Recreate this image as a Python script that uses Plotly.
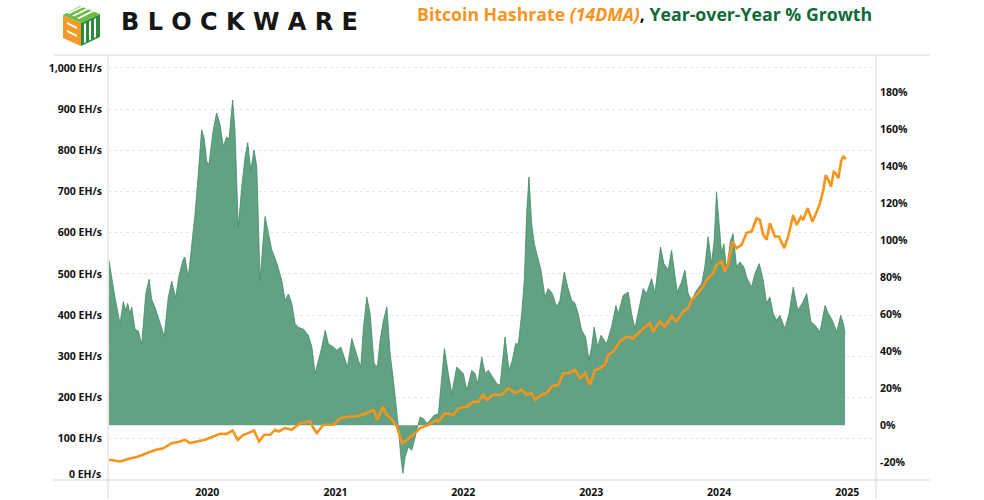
import pandas as pd
import plotly.graph_objects as go

# ---------------- data ----------------
# Year-over-year % growth of 14DMA hashrate (decimal year, %)
yoy_t = [2019.232, 2019.253, 2019.279, 2019.318, 2019.344, 2019.362, 2019.378, 2019.396, 2019.409, 2019.435,
         2019.461, 2019.488, 2019.519, 2019.545, 2019.566, 2019.591, 2019.617, 2019.644, 2019.664, 2019.695,
         2019.722, 2019.753, 2019.779, 2019.813, 2019.826, 2019.852, 2019.883, 2019.904, 2019.930, 2019.956,
         2019.977, 2019.995, 2020.013, 2020.029, 2020.047, 2020.073, 2020.099, 2020.125, 2020.152, 2020.170,
         2020.198, 2020.216, 2020.242, 2020.269, 2020.295, 2020.316, 2020.339, 2020.365, 2020.386, 2020.412,
         2020.451, 2020.477, 2020.503, 2020.542, 2020.581, 2020.607, 2020.633, 2020.659, 2020.685, 2020.711,
         2020.750, 2020.789, 2020.816, 2020.841, 2020.867, 2020.894, 2020.920, 2020.945, 2020.984, 2021.011,
         2021.042, 2021.068, 2021.094, 2021.128, 2021.154, 2021.180, 2021.198, 2021.219, 2021.245, 2021.271,
         2021.302, 2021.328, 2021.349, 2021.375, 2021.402, 2021.427, 2021.453, 2021.480, 2021.492, 2021.511,
         2021.527, 2021.545, 2021.570, 2021.597, 2021.623, 2021.648, 2021.662, 2021.688, 2021.714, 2021.740,
         2021.771, 2021.805, 2021.818, 2021.852, 2021.878, 2021.909, 2021.948, 2021.974, 2022.000, 2022.027,
         2022.066, 2022.091, 2022.113, 2022.144, 2022.170, 2022.195, 2022.227, 2022.261, 2022.287, 2022.326,
         2022.357, 2022.383, 2022.409, 2022.430, 2022.456, 2022.477, 2022.495, 2022.513, 2022.534, 2022.555,
         2022.581, 2022.607, 2022.638, 2022.664, 2022.695, 2022.730, 2022.755, 2022.789, 2022.816, 2022.847,
         2022.873, 2022.898, 2022.925, 2022.956, 2022.982, 2023.003, 2023.023, 2023.050, 2023.076, 2023.120,
         2023.159, 2023.193, 2023.211, 2023.250, 2023.289, 2023.316, 2023.341, 2023.375, 2023.406, 2023.433,
         2023.472, 2023.498, 2023.523, 2023.542, 2023.568, 2023.602, 2023.628, 2023.646, 2023.672, 2023.706,
         2023.732, 2023.758, 2023.784, 2023.823, 2023.863, 2023.888, 2023.914, 2023.941, 2023.961, 2023.980,
         2023.998, 2024.019, 2024.037, 2024.058, 2024.089, 2024.109, 2024.136, 2024.162, 2024.193, 2024.214,
         2024.253, 2024.279, 2024.313, 2024.344, 2024.370, 2024.396, 2024.422, 2024.448, 2024.474, 2024.513,
         2024.545, 2024.578, 2024.613, 2024.648, 2024.683, 2024.716, 2024.748, 2024.787, 2024.826, 2024.852,
         2024.883, 2024.917, 2024.948, 2024.969, 2024.982]
yoy_pct = [89, 80, 69, 55, 67, 62, 66, 60, 64, 52,
           51, 44, 71, 79, 68, 64, 58, 53, 48, 69,
           78, 69, 81, 90, 91, 80, 100, 114, 136, 160,
           155, 143, 141, 151, 160, 169, 163, 151, 156, 155,
           176, 160, 107, 129, 145, 153, 138, 149, 140, 78.5,
           113, 104, 95, 88, 78.5, 67.6, 71, 66, 55, 53,
           52, 48.7, 42.4, 28, 35, 42.4, 51.4, 44, 42.4, 40.6,
           42.4, 37, 31.5, 47, 40.6, 35, 31.5, 53, 69.4, 60.4,
           33.4, 31.5, 46, 56.8, 64, 38.8, 24.4, 8, -1, -17,
           -26, -17, -11.7, -13.5, -6.3, -1, 4.5, 3.6, 1, 2.7,
           5.4, 6.3, 15.3, 41.5, 29.8, 17.2, 31.5, 29.8, 28, 18.9,
           29.8, 28, 22.6, 37, 28, 29.8, 26, 22.6, 21.6, 47.8,
           29.8, 35.2, 44.2, 44, 60.4, 78.5, 114.6, 134.4, 109, 98.3,
           91, 84, 69.4, 74, 71.3, 64, 67.6, 83, 74.8, 67.6,
           66, 60.4, 51.4, 47.8, 35.2, 42.4, 53.2, 42.4, 48.7, 44.2,
           53.2, 64.9, 60.4, 70.3, 72.1, 60.4, 52.3, 64, 74, 71.3,
           79.4, 71.3, 84, 96.5, 87.5, 84, 94.7, 85.7, 72.1, 77.5,
           84, 71.3, 67.6, 73, 76.7, 85.7, 102, 87.5, 100, 126,
           111, 93, 98.3, 84, 100, 103.7, 85.7, 88.4, 85.7, 80.2,
           74.8, 82, 87.5, 78.5, 66, 69.4, 60.4, 56.8, 59.5, 52.3,
           60.4, 74.8, 62.2, 65.9, 71.3, 55.9, 54.1, 50.5, 64.9, 60.4,
           56.8, 50.5, 59.5, 55, 49.6]

# Bitcoin hashrate, 14-day moving average (decimal year, EH/s)
hash_t = [2019.232, 2019.318, 2019.383, 2019.461, 2019.527, 2019.591, 2019.656, 2019.722, 2019.787, 2019.826,
          2019.865, 2019.917, 2019.982, 2020.047, 2020.099, 2020.152, 2020.198, 2020.238, 2020.281, 2020.320,
          2020.365, 2020.404, 2020.445, 2020.490, 2020.529, 2020.555, 2020.607, 2020.659, 2020.724, 2020.802,
          2020.828, 2020.855, 2020.906, 2020.984, 2021.037, 2021.102, 2021.154, 2021.206, 2021.271, 2021.297,
          2021.328, 2021.370, 2021.402, 2021.441, 2021.480, 2021.519, 2021.558, 2021.609, 2021.662, 2021.727,
          2021.792, 2021.805, 2021.857, 2021.922, 2021.961, 2022.027, 2022.078, 2022.117, 2022.156, 2022.183,
          2022.234, 2022.300, 2022.352, 2022.404, 2022.456, 2022.495, 2022.534, 2022.560, 2022.613, 2022.652,
          2022.691, 2022.742, 2022.781, 2022.820, 2022.873, 2022.912, 2022.951, 2022.990, 2023.029, 2023.068,
          2023.107, 2023.133, 2023.172, 2023.224, 2023.277, 2023.328, 2023.394, 2023.459, 2023.484, 2023.537,
          2023.576, 2023.628, 2023.667, 2023.719, 2023.758, 2023.784, 2023.823, 2023.875, 2023.914, 2023.953,
          2023.980, 2024.019, 2024.045, 2024.070, 2024.105, 2024.136, 2024.175, 2024.214, 2024.253, 2024.292,
          2024.318, 2024.344, 2024.370, 2024.396, 2024.435, 2024.466, 2024.508, 2024.539, 2024.578, 2024.605,
          2024.638, 2024.656, 2024.691, 2024.727, 2024.761, 2024.787, 2024.813, 2024.831, 2024.852, 2024.873,
          2024.894, 2024.909, 2024.930, 2024.951, 2024.969, 2024.988]
hash_eh = [49, 45, 51, 57, 65, 73, 77, 89.5, 93.4, 97.5,
           89.5, 93.4, 97.5, 105.5, 112, 112, 120, 97.5, 109.7, 113.8,
           120, 93.4, 109.7, 109.7, 121.8, 117.7, 126, 121.8, 138, 142,
           126, 113.8, 134, 134, 150, 154, 154, 158, 166, 170,
           146, 178, 158, 146, 130, 89.5, 97.5, 109.7, 126, 134,
           146, 142, 162, 158, 174, 178, 190, 190, 207, 194.6,
           207, 207, 223, 211, 219, 207, 211, 194.6, 207, 211,
           227, 231, 259, 259, 267, 247, 259, 231, 267, 271,
           279.5, 303.7, 311.7, 336, 348, 344, 364, 380.6, 360, 384.5,
           372, 396.6, 384.5, 408.8, 417, 437, 449, 469.4, 490, 502,
           522, 530, 506, 526, 578.6, 562.6, 570.6, 600, 603, 635,
           631, 595, 583, 623, 591, 591, 562.6, 591, 643, 619,
           639, 631, 660, 627, 651, 672, 704, 740, 728, 712,
           748, 744.5, 732, 772.7, 786.5, 778.5]

year_ticks = [2020, 2021, 2022, 2023, 2024, 2025]
left_ticks = [0, 100, 200, 300, 400, 500, 600, 700, 800, 900, 1000]
right_ticks = [-20, 0, 20, 40, 60, 80, 100, 120, 140, 160, 180]


def dec_to_date(t):
    y = int(t)
    start = pd.Timestamp(year=y, month=1, day=1)
    end = pd.Timestamp(year=y + 1, month=1, day=1)
    return start + (end - start) * (t - y)


def eh_label(v):
    return f"{v:,} EH/s"


yoy_dates = [dec_to_date(t) for t in yoy_t]
hash_dates = [dec_to_date(t) for t in hash_t]

# ---------------- layout geometry ----------------
W, H = 984, 500
ML, MR, MT, MB = 108, 108, 55, 20
PW, PH = W - ML - MR, H - MT - MB


def px(x):
    return (x - ML) / PW


def py(y):
    return (H - MB - y) / PH


GREEN_FILL = "#62A283"
GREEN_LINE = "#3F8A64"
ORANGE = "#F7941D"
DARK_GREEN = "#0D6B3A"
TICKFONT = dict(family="Open Sans", size=10.5, color="#111111", weight="bold")

fig = go.Figure()

fig.add_trace(go.Scatter(
    x=yoy_dates, y=yoy_pct, mode="lines", fill="tozeroy",
    fillcolor=GREEN_FILL, line=dict(color=GREEN_LINE, width=0.8),
    yaxis="y", name="YoY % Growth", hoverinfo="skip"))

fig.add_trace(go.Scatter(
    x=hash_dates, y=hash_eh, mode="lines",
    line=dict(color=ORANGE, width=2.6), yaxis="y2", name="Hashrate (14DMA)"))

fig.update_layout(
    width=W, height=H, autosize=False,
    margin=dict(l=ML, r=MR, t=MT, b=MB, autoexpand=False),
    paper_bgcolor="white", plot_bgcolor="white",
    showlegend=False,
    xaxis=dict(
        range=[dec_to_date(2019.224), dec_to_date(2025.224)],
        tickvals=[pd.Timestamp(year=y, month=1, day=1) for y in year_ticks],
        ticktext=[str(y) for y in year_ticks],
        tickfont=TICKFONT, showgrid=False, zeroline=False, showline=False,
        ticks="", ticklabelstandoff=4, automargin=False),
    yaxis=dict(
        side="right", range=[-29.6, 200.4],
        tickvals=right_ticks, ticktext=[f"{v}%" for v in right_ticks],
        tickfont=TICKFONT, showgrid=False, zeroline=False, showline=False,
        ticks="", ticklabelstandoff=3, automargin=False),
    yaxis2=dict(
        overlaying="y", side="left", range=[0, 1031.5],
        tickvals=left_ticks,
        # the bottom label is drawn as an annotation, lifted off the frame line
        ticktext=["" if v == 0 else eh_label(v) for v in left_ticks],
        tickfont=TICKFONT, showgrid=True, gridcolor="#e6e6e6", griddash="dot",
        gridwidth=1, zeroline=False, showline=False, ticks="", ticklabelstandoff=5,
        automargin=False),
)

fig.add_annotation(
    xref="paper", yref="y2", x=0, y=left_ticks[0], xanchor="right", yanchor="middle",
    xshift=-5, yshift=6, text=eh_label(left_ticks[0]), showarrow=False, font=TICKFONT)

# frame lines (table-style borders)
line_style = dict(color="#d9d9d9", width=1)
shapes = [
    dict(type="line", xref="paper", yref="paper", x0=px(53), x1=px(930), y0=1, y1=1, line=line_style),
    dict(type="line", xref="paper", yref="paper", x0=px(53), x1=px(930), y0=0, y1=0, line=line_style),
    dict(type="line", xref="paper", yref="paper", x0=0, x1=0, y0=py(499), y1=1, line=line_style),
    dict(type="line", xref="paper", yref="paper", x0=1, x1=1, y0=py(499), y1=1, line=line_style),
]


def poly(pts, color):
    path = "M " + " L ".join(f"{px(a)},{py(b)}" for a, b in pts) + " Z"
    return dict(type="path", xref="paper", yref="paper", path=path,
                fillcolor=color, line=dict(width=0), layer="above")


# logo icon (isometric cube: orange left face, green right face / top stripes)
shapes += [
    poly([(63, 15), (81, 23), (81, 46), (63, 38)], "#F39A2B"),
    poly([(81, 23), (100, 14), (100, 37), (81, 46)], "#2E8B3E"),
    poly([(63, 15), (80, 6), (100, 14), (81, 23)], "#6DBB45"),
    poly([(67, 13), (84, 5), (86, 6), (69, 14)], "#ffffff"),
    poly([(72, 15.5), (89, 7), (91, 8), (74, 16.5)], "#ffffff"),
    poly([(77, 18), (94, 9.5), (96, 10.5), (79, 19)], "#ffffff"),
    poly([(84, 24), (86, 23), (86, 42), (84, 43)], "#ffffff"),
    poly([(89, 21.5), (91, 20.5), (91, 39.5), (89, 40.5)], "#ffffff"),
    poly([(94, 19), (96, 18), (96, 37), (94, 38)], "#ffffff"),
    poly([(67, 22), (77, 27), (77, 29), (67, 24)], "#ffffff"),
    poly([(67, 30), (77, 35), (77, 37), (67, 32)], "#ffffff"),
]
fig.update_layout(shapes=shapes)

fig.add_annotation(
    xref="paper", yref="paper", x=px(119), y=py(22), xanchor="left", yanchor="middle",
    text="B L O C K W A R E", showarrow=False,
    font=dict(family="DejaVu Sans", size=24, color="#161616", weight="bold"))

title = (f"<span style='color:{ORANGE}'>Bitcoin Hashrate <i>(14DMA)</i></span>"
         f"<span style='color:#111111'>, </span>"
         f"<span style='color:{DARK_GREEN}'>Year-over-Year % Growth</span>")
fig.add_annotation(
    xref="paper", yref="paper", x=px(874), y=py(14), xanchor="right", yanchor="middle",
    text=title, showarrow=False,
    font=dict(family="Open Sans", size=17.7, weight="bold"))

fig.write_html("out.html")
